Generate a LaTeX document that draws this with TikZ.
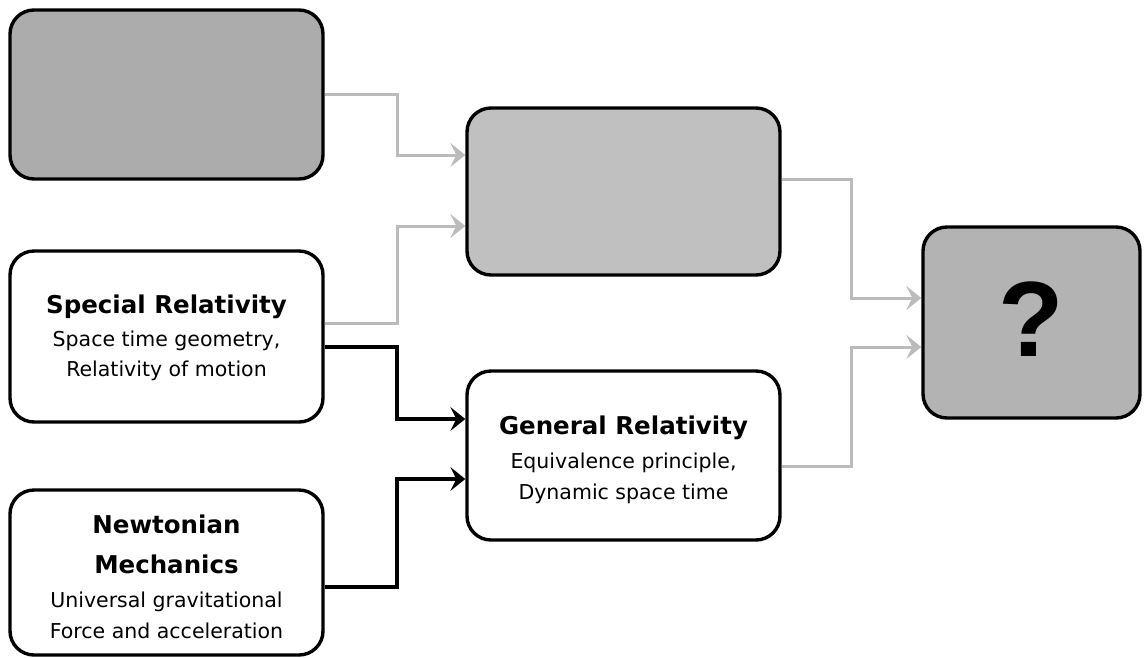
\documentclass[tikz,border=0pt]{standalone}
\usepackage{fontspec}
\setmainfont{DejaVu Sans}
\newfontfamily\qfont{Liberation Sans}
\usetikzlibrary{arrows.meta}
\definecolor{boxA}{HTML}{ACACAC}
\definecolor{boxM}{HTML}{C0C0C0}
\definecolor{boxQ}{HTML}{B3B3B3}
\definecolor{lgray}{HTML}{BBBBBB}
\tikzset{
  box/.style={draw=black, line width=3.4pt, rounded corners=24pt, minimum width=313pt, minimum height=169pt, inner sep=0pt},
  ttl/.style={anchor=base, font=\bfseries\fontsize{24.5}{30}\selectfont},
  txt/.style={anchor=base, font=\fontsize{20.5}{24}\selectfont},
  grayconn/.style={draw=lgray, line width=3pt, -{Stealth[length=15pt,width=24pt,inset=6pt]}},
  blackconn/.style={draw=black, line width=3.4pt, -{Stealth[length=15pt,width=24pt,inset=6pt]}},
}
\begin{document}
\begin{tikzpicture}[x=1pt,y=-1pt]
\useasboundingbox (0,0) rectangle (1144,657);
% boxes
\node[box, fill=boxA] (A) at (166.5,94.5) {};
\node[box, fill=white, minimum height=171pt] (SR) at (166.5,336.5) {};
\node[box, fill=white, minimum height=165pt] (NM) at (166.5,572.5) {};
\node[box, fill=boxM, minimum height=167pt] (M) at (623.5,191.5) {};
\node[box, fill=white] (GR) at (623.5,455.5) {};
\node[box, fill=boxQ, minimum width=217pt, minimum height=191pt] (Q) at (1031.5,322.5) {};
% texts
\node[ttl] (sr-t) at (166.5,313) {Special Relativity};
\node[txt] (sr-1) at (166.5,346) {Space time geometry,};
\node[txt] (sr-2) at (166.5,376) {Relativity of motion};
\node[ttl] (nm-t1) at (166.5,533) {Newtonian};
\node[ttl] (nm-t2) at (166.5,573) {Mechanics};
\node[txt] (nm-1) at (166.5,607) {Universal gravitational};
\node[txt] (nm-2) at (166.5,638) {Force and acceleration};
\node[ttl] (gr-t) at (623.5,434) {General Relativity};
\node[txt] (gr-1) at (623.5,468) {Equivalence principle,};
\node[txt] (gr-2) at (623.5,499) {Dynamic space time};
\node[anchor=base, font=\qfont\bfseries\fontsize{107}{110}\selectfont] (q) at (1031.5,356) {?};
% elbow columns
\coordinate (xl) at (397,0);
\coordinate (xr) at (851,0);
% connectors
\draw[grayconn] (A.east) -- (A.east -| xl) |- ([yshift=36.5pt]M.west);
\draw[grayconn] ([yshift=13.5pt]SR.east) -- ([yshift=13.5pt]SR.east -| xl) |- ([yshift=-34.5pt]M.west);
\draw[blackconn] ([yshift=-10.5pt]SR.east) -- ([yshift=-10.5pt]SR.east -| xl) |- ([yshift=36.5pt]GR.west);
\draw[blackconn] ([yshift=-14.5pt]NM.east) -- ([yshift=-14.5pt]NM.east -| xl) |- ([yshift=-23.5pt]GR.west);
\draw[grayconn] ([yshift=12.5pt]M.east) -- ([yshift=12.5pt]M.east -| xr) |- ([yshift=24.5pt]Q.west);
\draw[grayconn] ([yshift=-10.5pt]GR.east) -- ([yshift=-10.5pt]GR.east -| xr) |- ([yshift=-24.5pt]Q.west);
\end{tikzpicture}
\end{document}
